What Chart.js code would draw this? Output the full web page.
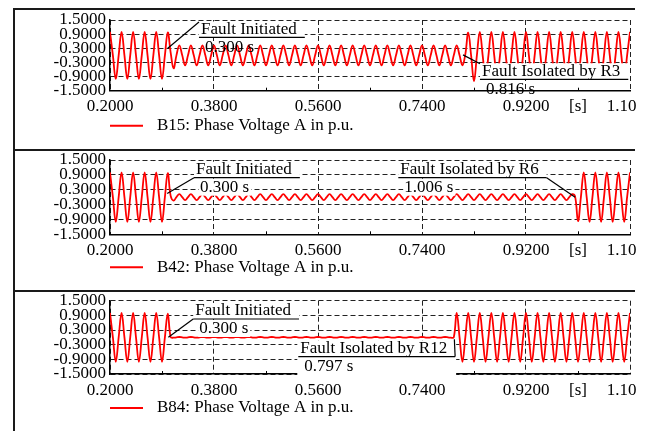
<!DOCTYPE html>
<html><head><meta charset="utf-8">
<script src="https://cdn.jsdelivr.net/npm/chart.js@4/dist/chart.umd.min.js"></script>
<style>
html,body{margin:0;padding:0;background:#fff;}
body{width:646px;height:431px;position:relative;overflow:hidden;}
.clip{position:absolute;left:0;width:636px;overflow:hidden;}
.rule{position:absolute;background:#1a1a1a;}
canvas{display:block;}
</style></head><body>
<div class="rule" style="left:13px;top:8px;width:2px;height:423px"></div>
<div class="rule" style="left:13px;top:8px;width:622px;height:2px"></div>
<div class="rule" style="left:13px;top:149px;width:622px;height:2px"></div>
<div class="rule" style="left:13px;top:290px;width:622px;height:2px"></div>
<div class="clip" style="top:0;height:145px"><canvas id="c1" width="700" height="145"></canvas></div>
<div class="clip" style="top:145px;height:141px"><canvas id="c2" width="700" height="141"></canvas></div>
<div class="clip" style="top:286px;height:145px"><canvas id="c3" width="700" height="145"></canvas></div>
<script>
// ---- data ----
const time = [
0.2,0.205,0.21,0.215,0.22,0.225,0.23,0.235,0.24,0.245,0.25,0.255,0.26,0.265,0.27,0.275,0.28,0.285,0.29,0.295,
0.3,0.305,0.31,0.315,0.32,0.325,0.33,0.335,0.34,0.345,0.35,0.355,0.36,0.365,0.37,0.375,0.38,0.385,0.39,0.395,
0.4,0.405,0.41,0.415,0.42,0.425,0.43,0.435,0.44,0.445,0.45,0.455,0.46,0.465,0.47,0.475,0.48,0.485,0.49,0.495,
0.5,0.505,0.51,0.515,0.52,0.525,0.53,0.535,0.54,0.545,0.55,0.555,0.56,0.565,0.57,0.575,0.58,0.585,0.59,0.595,
0.6,0.605,0.61,0.615,0.62,0.625,0.63,0.635,0.64,0.645,0.65,0.655,0.66,0.665,0.67,0.675,0.68,0.685,0.69,0.695,
0.7,0.705,0.71,0.715,0.72,0.725,0.73,0.735,0.74,0.745,0.75,0.755,0.76,0.765,0.77,0.775,0.78,0.785,0.79,0.795,
0.8,0.805,0.81,0.815,0.82,0.825,0.83,0.835,0.84,0.845,0.85,0.855,0.86,0.865,0.87,0.875,0.88,0.885,0.89,0.895,
0.9,0.905,0.91,0.915,0.92,0.925,0.93,0.935,0.94,0.945,0.95,0.955,0.96,0.965,0.97,0.975,0.98,0.985,0.99,0.995,
1.0,1.005,1.01,1.015,1.02,1.025,1.03,1.035,1.04,1.045,1.05,1.055,1.06,1.065,1.07,1.075,1.08,1.085,1.09,1.095,
1.1];

const b15 = [
1,0,-1,0,1,0,-1,0,1,0,-1,0,1,0,-1,0,1,0,-1,0,
0.97,0.12,-0.55,0,0.42,0,-0.42,0,0.42,0,-0.42,0,0.42,0,-0.42,0,0.42,0,-0.42,0,
0.42,0,-0.42,0,0.42,0,-0.42,0,0.42,0,-0.42,0,0.42,0,-0.42,0,0.42,0,-0.42,0,
0.42,0,-0.42,0,0.42,0,-0.42,0,0.42,0,-0.42,0,0.42,0,-0.42,0,0.42,0,-0.42,0,
0.42,0,-0.42,0,0.42,0,-0.42,0,0.42,0,-0.42,0,0.42,0,-0.42,0,0.42,0,-0.42,0,
0.42,0,-0.42,0,0.42,0,-0.42,0,0.42,0,-0.42,0,0.42,0,-0.42,0,0.42,0,-0.42,0,
0.42,0,-0.42,0.05,0.96,0,-1.1,0,1,0,-1,0,1,0,-1,0,1,0,-1,0,
1,0,-1,0,1,0,-1,0,1,0,-1,0,1,0,-1,0,1,0,-1,0,
1,0,-1,0,1,0,-1,0,1,0,-1,0,1,0,-1,0,1,0,-1,0,
1];

const b42 = [
1,0,-1,0,1,0,-1,0,1,0,-1,0,1,0,-1,0,1,0,-1,0,
0.97,0.05,-0.14,0,0.12,0,-0.12,0,0.12,0,-0.12,0,0.12,0,-0.12,0,0.12,0,-0.12,0,
0.12,0,-0.12,0,0.12,0,-0.12,0,0.12,0,-0.12,0,0.12,0,-0.12,0,0.12,0,-0.12,0,
0.12,0,-0.12,0,0.12,0,-0.12,0,0.12,0,-0.12,0,0.12,0,-0.12,0,0.12,0,-0.12,0,
0.12,0,-0.12,0,0.12,0,-0.12,0,0.12,0,-0.12,0,0.12,0,-0.12,0,0.12,0,-0.12,0,
0.12,0,-0.12,0,0.12,0,-0.12,0,0.12,0,-0.12,0,0.12,0,-0.12,0,0.12,0,-0.12,0,
0.12,0,-0.12,0,0.12,0,-0.12,0,0.12,0,-0.12,0,0.12,0,-0.12,0,0.12,0,-0.12,0,
0.12,0,-0.12,0,0.12,0,-0.12,0,0.12,0,-0.12,0,0.12,0,-0.12,0,0.12,0,-0.12,0,
0.12,0.02,-0.97,0,1,0,-1,0,1,0,-1,0,1,0,-1,0,1,0,-1,0,
1];

const b84 = [
1,0,-1,0,1,0,-1,0,1,0,-1,0,1,0,-1,0,1,0,-1,0,
0.97,0.01,-0.015,0,0.015,0,-0.015,0,0.015,0,-0.015,0,0.015,0,-0.015,0,0.015,0,-0.015,0,
0.015,0,-0.015,0,0.015,0,-0.015,0,0.015,0,-0.015,0,0.015,0,-0.015,0,0.015,0,-0.015,0,
0.015,0,-0.015,0,0.015,0,-0.015,0,0.015,0,-0.015,0,0.015,0,-0.015,0,0.015,0,-0.015,0,
0.015,0,-0.015,0,0.015,0,-0.015,0,0.015,0,-0.015,0,0.015,0,-0.015,0,0.015,0,-0.015,0,
0.015,0,-0.015,0,0.015,0,-0.015,0,0.015,0,-0.015,0,0.015,0,-0.015,0,0.015,0,-0.015,0,
1,0,-1,0,1,0,-1,0,1,0,-1,0,1,0,-1,0,1,0,-1,0,
1,0,-1,0,1,0,-1,0,1,0,-1,0,1,0,-1,0,1,0,-1,0,
1,0,-1,0,1,0,-1,0,1,0,-1,0,1,0,-1,0,1,0,-1,0,
1];

const seriesLabels = ['B15: Phase Voltage A in p.u.','B42: Phase Voltage A in p.u.','B84: Phase Voltage A in p.u.'];
const xTickValues = [0.2,0.29,0.38,0.47,0.56,0.65,0.74,0.83,0.92,1.01,1.1];
const xTickLabels = ['0.2000','','0.3800','','0.5600','','0.7400','','0.9200','[s]','1.1000'];
const yTickValues = [-1.5,-0.9,-0.3,0.3,0.9,1.5];

// annotation texts
const notes1 = [
  {t1:'Fault Initiated', t2:'0.300 s', target:[0.3,0.3], at:[0.354,0.76], attach:'tl', fill:'line1'},
  {t1:'Fault Isolated by R3', t2:'0.816 s', target:[0.811,0.02], at:[0.8403,-1.016], attach:'tl', fill:'line1'}
];
const notes2 = [
  {t1:'Fault Initiated', t2:'0.300 s', target:[0.299,0.15], at:[0.3454,0.785], attach:'ul', fill:'both'},
  {t1:'Fault Isolated by R6', t2:'1.006 s', target:[1.005,0.0], at:[0.699,0.785], attach:'ur', fill:'both'}
];
const notes3 = [
  {t1:'Fault Initiated', t2:'0.300 s', target:[0.301,0.0], at:[0.344,0.752], attach:'ul', fill:'both'},
  {t1:'Fault Isolated by R12', t2:'0.797 s', target:[0.796,-0.08], at:[0.5259,-0.79], attach:'ur', fill:'all'}
];

// ---- rendering ----
const FONT = '"Liberation Serif", "Times New Roman", serif';
const FS = 17;

const decor = {
  id:'decor',
  afterDatasetsDraw(chart, args, o) {
    const ctx = chart.ctx, xs = chart.scales.x, ys = chart.scales.y, ca = chart.chartArea;
    ctx.save();
    // minor tick marks on the bottom axis
    ctx.strokeStyle = '#000'; ctx.lineWidth = 1;
    xs.ticks.forEach((t, i) => {
      if (i % 2 === 1) {
        const px = Math.round(xs.getPixelForValue(t.value)) + 0.5;
        ctx.beginPath(); ctx.moveTo(px, ca.bottom); ctx.lineTo(px, ca.bottom - 3); ctx.stroke();
      }
    });
    ctx.font = FS + 'px ' + FONT;
    // white label backgrounds
    ctx.fillStyle = '#fff';
    o.notes.forEach(n => {
      const ux = xs.getPixelForValue(n.at[0]), uy = ys.getPixelForValue(n.at[1]);
      const ulen = ctx.measureText(n.t1).width + 10;
      const w2 = ctx.measureText(n.t2).width;
      if (n.fill === 'all') {
        ctx.fillRect(ux - 1, uy - 16, ulen + 2, 36);
      } else {
        ctx.fillRect(ux, uy - 16, ulen, 16);
        if (n.fill === 'both') ctx.fillRect(ux + 5, uy + 1, w2 + 3, 17);
      }
    });
    ctx.fillStyle = '#000';
    ctx.textBaseline = 'middle';
    ctx.textAlign = 'left';
    o.notes.forEach(n => {
      const ux = xs.getPixelForValue(n.at[0]), uy = ys.getPixelForValue(n.at[1]);
      const tx = xs.getPixelForValue(n.target[0]), ty = ys.getPixelForValue(n.target[1]);
      const ulen = ctx.measureText(n.t1).width + 10;
      let ax = ux, ay = uy;
      if (n.attach === 'tl') { ay = uy - 15.5; }
      else if (n.attach === 'ur') { ax = ux + ulen; }
      ctx.lineWidth = 1.2; ctx.strokeStyle = '#000';
      ctx.beginPath(); ctx.moveTo(ux, uy); ctx.lineTo(ux + ulen, uy); ctx.stroke();
      ctx.beginPath(); ctx.moveTo(ax, ay); ctx.lineTo(tx, ty); ctx.stroke();
      ctx.fillText(n.t1, ux + 2, uy - 8);
      ctx.fillText(n.t2, ux + 6, uy + 10);
    });
    ctx.restore();
  },
  afterDraw(chart, args, o) {
    const ctx = chart.ctx, ca = chart.chartArea;
    const y = ca.bottom + o.legendOffset;
    ctx.save();
    ctx.strokeStyle = '#ff0000'; ctx.lineWidth = 2;
    ctx.beginPath(); ctx.moveTo(ca.left, y); ctx.lineTo(ca.left + 33, y); ctx.stroke();
    ctx.font = FS + 'px ' + FONT;
    ctx.fillStyle = '#000'; ctx.textBaseline = 'middle'; ctx.textAlign = 'left';
    ctx.fillText(chart.data.datasets[0].label, ca.left + 47, y);
    ctx.restore();
  }
};

function makePanel(id, label, values, notes, padTop, padBottom, legendOffset) {
  const pts = time.map((t, i) => ({x: t, y: values[i]}));
  return new Chart(document.getElementById(id), {
    type: 'line',
    data: { datasets: [{
      label: label, data: pts, borderColor: '#ff0000', borderWidth: 1.8,
      pointRadius: 0, tension: 0.4, fill: false
    }]},
    options: {
      responsive: false, animation: false, devicePixelRatio: 1,
      layout: { padding: { left: 0, right: 70, top: padTop, bottom: padBottom } },
      plugins: { legend: { display: false }, tooltip: { enabled: false },
                 decor: { notes: notes, legendOffset: legendOffset } },
      scales: {
        x: {
          type: 'linear', min: 0.2, max: 1.1,
          afterBuildTicks: s => { s.ticks = xTickValues.map(v => ({value: v})); },
          afterFit: s => { s.height = 30; },
          ticks: { autoSkip: false, maxRotation: 0, minRotation: 0, padding: 6, color: '#000',
                   font: { family: FONT, size: FS }, callback: (v, i) => xTickLabels[i] },
          grid: { color: c => (c.index % 2 === 0 ? '#222' : 'rgba(0,0,0,0)'), lineWidth: 1, drawTicks: false },
          border: { display: true, color: '#000', width: 1.5, dash: [5, 3] }
        },
        y: {
          type: 'linear', min: -1.5, max: 1.5,
          afterBuildTicks: s => { s.ticks = yTickValues.map(v => ({value: v})); },
          afterFit: s => { s.width = 110; },
          ticks: { autoSkip: false, padding: 4, color: '#000', font: { family: FONT, size: FS },
                   callback: v => Number(v).toFixed(4) },
          grid: { color: '#222', lineWidth: 1, drawTicks: false },
          border: { display: true, color: '#000', width: 1.5, dash: [5, 3] }
        }
      }
    },
    plugins: [decor]
  });
}

makePanel('c1', seriesLabels[0], b15, notes1, 20, 24.3, 35);
makePanel('c2', seriesLabels[1], b42, notes2, 15, 21.7, 33);
makePanel('c3', seriesLabels[2], b84, notes3, 14.7, 27, 34);
</script>
</body></html>
